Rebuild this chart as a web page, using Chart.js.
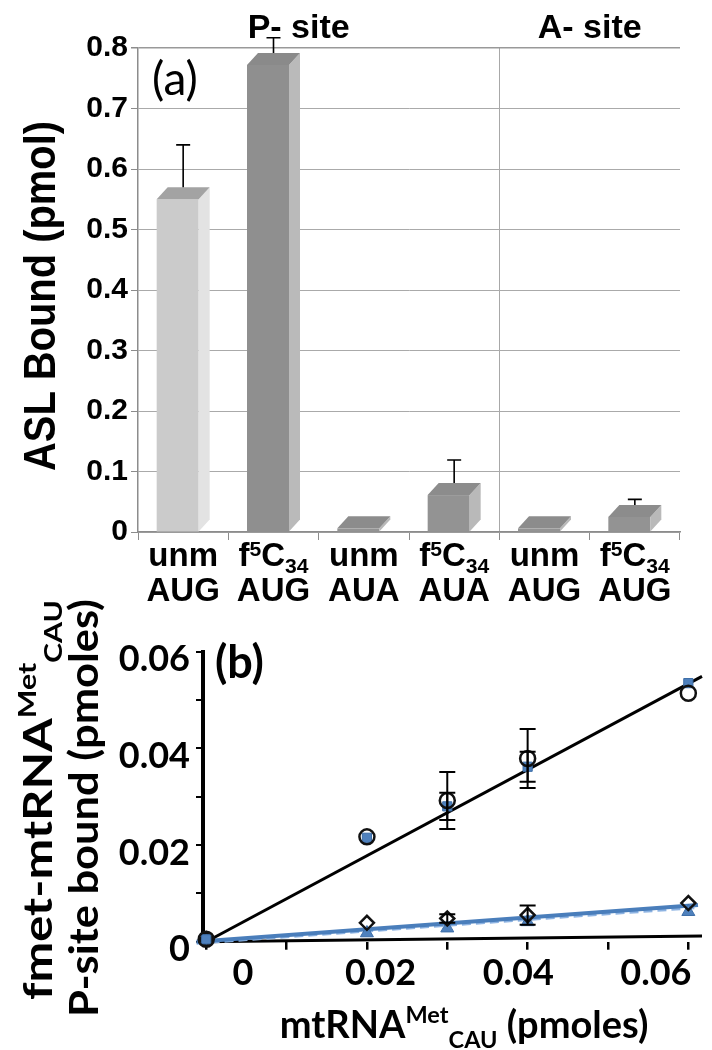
<!DOCTYPE html>
<html>
<head>
<meta charset="utf-8">
<script src="https://cdn.jsdelivr.net/npm/chart.js@4"></script>
<style>
  body { margin: 0; background: #fff; }
  #wrap { position: relative; width: 712px; height: 1050px; }
  canvas { position: absolute; left: 0; }
  #chartA { top: 0; }
  #chartB { top: 560px; }
</style>
</head>
<body>
<div id="wrap">
  <canvas id="chartA" width="712" height="620"></canvas>
  <canvas id="chartB" width="712" height="490"></canvas>
</div>
<script>
// ---- panel (a) data ----
const modLabels = ['unm', 'f⁵C₃₄', 'unm', 'f⁵C₃₄', 'unm', 'f⁵C₃₄'];
const codonLabels = ['AUG', 'AUG', 'AUA', 'AUA', 'AUG', 'AUG'];
const boundValues = [0.55, 0.772, 0.006, 0.061, 0.006, 0.025];
const boundErrors = [0.08, 0.035, 0, 0.048, 0, 0.019];
const yTicksA = [0, 0.1, 0.2, 0.3, 0.4, 0.5, 0.6, 0.7, 0.8];
const siteNames = ['P- site', 'A- site'];
const siteFirstIndex = [0, 4];
const siteLastIndex = [3, 5];

// ---- panel (b) data ----
const xPmol = [0, 0.02, 0.03, 0.04, 0.06];
const circleVals = [0.0005, 0.0217, 0.0292, 0.0379, 0.0514];
const circleErr = [0, 0, 0.0059, 0.0061, 0];
const squareVals = [0.0005, 0.0215, 0.028, 0.0362, 0.0535];
const squareErr = [0, 0, 0.0028, 0.0031, 0];
const diamondVals = [0.0005, 0.0039, 0.0048, 0.0055, 0.008];
const diamondErr = [0, 0, 0.0009, 0.002, 0];
const triangleVals = [0.0002, 0.0018, 0.0028, 0.0041, 0.0062];
const fitHighX = [0, 0.0617];
const fitHighY = [0, 0.0549];
const fitLowX = [-0.0012, 0.0612];
const fitLowY = [0, 0.0076];
const fitLowDashY = [-0.0003, 0.0071];
const fitFlatX = [-0.0004, 0.0617];
const fitFlatY = [0, 0.0012];
const xTicksB = [0, 0.01, 0.02, 0.03, 0.04, 0.05, 0.06];
const xLabelTicksB = [0, 0.02, 0.04, 0.06];
const yTicksB = [0, 0.01, 0.02, 0.03, 0.04, 0.05, 0.06];
const yLabelTicksB = [0, 0.02, 0.04, 0.06];

// ---- styles ----
const frontColors = ['#cbcbcb', '#8f8f8f', '#939393', '#939393', '#939393', '#939393'];
const sideColors = ['#e3e3e3', '#bababa', '#b9b9b9', '#b9b9b9', '#b9b9b9', '#b9b9b9'];
const topColors = ['#a3a3a3', '#8a8a8a', '#8c8c8c', '#8c8c8c', '#8c8c8c', '#8c8c8c'];
const DX = 11, DY = 12;
const ARIAL = 'Liberation Sans';
const CALIBRI = 'Lato';

// rich text: ^{..} / _{..} and unicode super/subscript digits
const SUP = '⁰¹²³⁴⁵⁶⁷⁸⁹', SUB = '₀₁₂₃₄₅₆₇₈₉';
function parseRich(str) {
  const parts = [];
  const push = (t, k) => {
    const last = parts[parts.length - 1];
    if (last && last.k === k) last.t += t; else parts.push({ t, k });
  };
  let i = 0;
  while (i < str.length) {
    const c = str[i];
    if ((c === '^' || c === '_') && str[i + 1] === '{') {
      const end = str.indexOf('}', i);
      push(str.slice(i + 2, end), c === '^' ? 'sup' : 'sub');
      i = end + 1;
      continue;
    }
    let d = SUP.indexOf(c);
    if (d >= 0) { push(String(d), 'sup'); i++; continue; }
    d = SUB.indexOf(c);
    if (d >= 0) { push(String(d), 'sub'); i++; continue; }
    push(c, 'n');
    i++;
  }
  return parts;
}
function fonts(o) {
  const weight = o.weight || 'bold';
  const small = o.size * (o.scale || 0.62);
  return [`${weight} ${o.size}px "${o.family}"`, `${weight} ${small}px "${o.family}"`];
}
function measureRich(ctx, str, o) {
  const [fontN, fontS] = fonts(o);
  return parseRich(str).reduce((sum, p) => {
    ctx.font = p.k === 'n' ? fontN : fontS;
    return sum + ctx.measureText(p.t).width;
  }, 0);
}
function drawRich(ctx, str, x, y, o) {
  const parts = parseRich(str);
  const [fontN, fontS] = fonts(o);
  let total = 0;
  parts.forEach(p => {
    ctx.font = p.k === 'n' ? fontN : fontS;
    p.w = ctx.measureText(p.t).width;
    total += p.w;
  });
  let cx = o.align === 'left' ? x : o.align === 'right' ? x - total : x - total / 2;
  ctx.fillStyle = o.color || '#000';
  ctx.textAlign = 'left';
  ctx.textBaseline = 'alphabetic';
  parts.forEach(p => {
    ctx.font = p.k === 'n' ? fontN : fontS;
    const dy = p.k === 'sup' ? -o.size * (o.supShift || 0.32) : p.k === 'sub' ? o.size * (o.subShift || 0.2) : 0;
    ctx.fillText(p.t, cx, y + dy);
    cx += p.w;
  });
}
function drawRotated(ctx, str, x, y, o) {
  ctx.save();
  ctx.translate(x, y);
  ctx.rotate(-Math.PI / 2);
  if (o.length) ctx.scale(o.length / measureRich(ctx, str, o), 1);
  drawRich(ctx, str, 0, 0, o);
  ctx.restore();
}

// 3D bars + error bars + texts for panel (a)
const panelA = {
  id: 'panelA',
  afterDatasetsDraw(chart) {
    const ctx = chart.ctx;
    const y = chart.scales.y;
    const meta = chart.getDatasetMeta(0);
    ctx.save();
    meta.data.forEach((bar, i) => {
      const p = bar.getProps(['x', 'y', 'base', 'width'], true);
      const left = p.x - (p.width + DX) / 2;
      const right = left + p.width;
      ctx.fillStyle = frontColors[i];
      ctx.fillRect(left, p.y, p.width, p.base - p.y);
      ctx.beginPath();
      ctx.moveTo(right, p.y);
      ctx.lineTo(right + DX, p.y - DY);
      ctx.lineTo(right + DX, p.base - DY);
      ctx.lineTo(right, p.base);
      ctx.closePath();
      ctx.fillStyle = sideColors[i];
      ctx.fill();
      ctx.beginPath();
      ctx.moveTo(left, p.y);
      ctx.lineTo(left + DX, p.y - DY);
      ctx.lineTo(right + DX, p.y - DY);
      ctx.lineTo(right, p.y);
      ctx.closePath();
      ctx.fillStyle = topColors[i];
      ctx.fill();
      if (boundErrors[i] > 0) {
        const yTop = y.getPixelForValue(boundValues[i] + boundErrors[i]) - DY / 2;
        ctx.strokeStyle = '#000';
        ctx.lineWidth = 1.6;
        ctx.beginPath();
        ctx.moveTo(p.x, p.y - DY);
        ctx.lineTo(p.x, yTop);
        ctx.moveTo(p.x - 7, yTop);
        ctx.lineTo(p.x + 7, yTop);
        ctx.stroke();
      }
    });
    ctx.restore();
  },
  afterDraw(chart) {
    const ctx = chart.ctx;
    const x = chart.scales.x;
    const area = chart.chartArea;
    ctx.save();
    modLabels.forEach((m, i) => {
      const cx = x.getPixelForValue(i);
      drawRich(ctx, m, cx, area.bottom + 34, { size: 33, family: ARIAL, supShift: 0.3, subShift: 0.22, scale: 0.64 });
      drawRich(ctx, codonLabels[i], cx, area.bottom + 69, { size: 33, family: ARIAL });
    });
    siteNames.forEach((s, k) => {
      const cx = (x.getPixelForValue(siteFirstIndex[k]) + x.getPixelForValue(siteLastIndex[k])) / 2;
      drawRich(ctx, s, k === 0 ? cx - 20 : cx, 38, { size: 34, family: ARIAL });
    });
    drawRich(ctx, '(a)', area.left + 14, 95, { size: 46, family: CALIBRI, weight: 'normal', align: 'left' });
    drawRotated(ctx, 'ASL Bound (pmol)', 55, 296, { size: 44, family: ARIAL, length: 350 });
    ctx.restore();
  }
};

new Chart(document.getElementById('chartA'), {
  type: 'bar',
  data: {
    labels: codonLabels,
    datasets: [{
      label: 'ASL Bound',
      data: boundValues,
      backgroundColor: 'rgba(0,0,0,0)',
      barThickness: 42
    }]
  },
  options: {
    responsive: false,
    animation: false,
    devicePixelRatio: 1,
    layout: { padding: { top: 48, right: 32, left: 0, bottom: 0 } },
    plugins: { legend: { display: false }, tooltip: { enabled: false } },
    scales: {
      x: {
        grid: {
          offset: true,
          color: c => (c.index === 4 ? '#a8a8a8' : c.index === 6 ? '#999' : 'rgba(0,0,0,0)'),
          lineWidth: c => (c.index === 6 ? 1.5 : 1),
          tickColor: '#8c8c8c',
          tickLength: 8
        },
        border: { color: '#8c8c8c', width: 1.5 },
        ticks: { display: false },
        afterFit: s => { s.height = 620 - 532; }
      },
      y: {
        min: 0,
        max: 0.8,
        afterBuildTicks: s => { s.ticks = yTicksA.map(v => ({ value: v })); },
        grid: {
          color: c => (c.index === yTicksA.length - 1 ? '#999' : '#aaaaaa'),
          lineWidth: c => (c.index === yTicksA.length - 1 ? 1.5 : 1),
          tickColor: '#8c8c8c',
          tickLength: 7
        },
        border: { color: '#8c8c8c', width: 1.5 },
        ticks: {
          color: '#000',
          padding: 3,
          font: { family: ARIAL, size: 30, weight: 'bold' },
          callback: v => (v === 0 ? '0' : v.toFixed(1))
        },
        afterFit: s => { s.width = 138; }
      }
    }
  },
  plugins: [panelA]
});

// panel (b)
const pts = vals => vals.map((v, i) => ({ x: xPmol[i], y: v }));
const pair = (xs, ys) => xs.map((v, i) => ({ x: v, y: ys[i] }));

const panelB = {
  id: 'panelB',
  afterDatasetsDraw(chart) {
    const ctx = chart.ctx;
    const y = chart.scales.y;
    const sets = [[0, circleVals, circleErr], [1, squareVals, squareErr], [2, diamondVals, diamondErr]];
    ctx.save();
    ctx.strokeStyle = '#000';
    ctx.lineWidth = 2;
    sets.forEach(([idx, vals, errs]) => {
      const meta = chart.getDatasetMeta(idx);
      meta.data.forEach((pt, i) => {
        if (!errs[i]) return;
        const yHi = y.getPixelForValue(vals[i] + errs[i]);
        const yLo = y.getPixelForValue(vals[i] - errs[i]);
        ctx.beginPath();
        ctx.moveTo(pt.x, yHi); ctx.lineTo(pt.x, yLo);
        ctx.moveTo(pt.x - 8, yHi); ctx.lineTo(pt.x + 8, yHi);
        ctx.moveTo(pt.x - 8, yLo); ctx.lineTo(pt.x + 8, yLo);
        ctx.stroke();
      });
    });
    ctx.restore();
  },
  afterDraw(chart) {
    const ctx = chart.ctx;
    const area = chart.chartArea;
    ctx.save();
    drawRich(ctx, '(b)', area.left + 12, area.top + 26, { size: 45, family: CALIBRI, align: 'left' });
    drawRich(ctx, 'mtRNA^{Met}_{CAU} (pmoles)', 464, 478, { size: 38, family: CALIBRI, scale: 0.62, supShift: 0.4, subShift: 0.25 });
    drawRotated(ctx, 'fmet-mtRNA^{Met}_{CAU}', 52, 240, { size: 40, family: CALIBRI, scale: 0.62, supShift: 0.4, subShift: 0.25, length: 400 });
    drawRotated(ctx, 'P-site bound (pmoles)', 98, 248, { size: 40, family: CALIBRI, length: 418 });
    ctx.restore();
  }
};

const tickFontB = { family: CALIBRI, size: 36, weight: 'bold' };

new Chart(document.getElementById('chartB'), {
  type: 'scatter',
  data: {
    datasets: [
      { label: 'circles', data: pts(circleVals), pointStyle: 'circle', pointRadius: 7.5,
        backgroundColor: 'rgba(0,0,0,0)', borderColor: '#111', pointBorderWidth: 2.5 },
      { label: 'squares', data: pts(squareVals), pointStyle: 'rect', pointRadius: 6.5,
        backgroundColor: '#4f81bd', borderColor: '#3d6ea8', pointBorderWidth: 1 },
      { label: 'diamonds', data: pts(diamondVals), pointStyle: 'rectRot', pointRadius: 7,
        backgroundColor: 'rgba(0,0,0,0)', borderColor: '#111', pointBorderWidth: 2.5 },
      { label: 'triangles', data: pts(triangleVals), pointStyle: 'triangle', pointRadius: 7.5,
        backgroundColor: '#4f81bd', borderColor: '#3d6ea8', pointBorderWidth: 1 },
      { type: 'line', label: 'fit high', data: pair(fitHighX, fitHighY), borderColor: '#000',
        borderWidth: 3, pointRadius: 0 },
      { type: 'line', label: 'fit low', data: pair(fitLowX, fitLowY), borderColor: '#4a7ebb',
        borderWidth: 4, pointRadius: 0 },
      { type: 'line', label: 'fit low dashed', data: pair(fitLowX, fitLowDashY), borderColor: '#8db3e2',
        borderWidth: 3, borderDash: [9, 5], pointRadius: 0 },
      { type: 'line', label: 'fit flat', data: pair(fitFlatX, fitFlatY), borderColor: '#000',
        borderWidth: 3, pointRadius: 0 }
    ]
  },
  options: {
    responsive: false,
    animation: false,
    devicePixelRatio: 1,
    clip: false,
    layout: { padding: { top: 91.7, right: 9, left: 0, bottom: 0 } },
    plugins: { legend: { display: false }, tooltip: { enabled: false } },
    scales: {
      x: {
        type: 'linear',
        weight: 0,
        min: -0.0004,
        max: 0.0617,
        afterBuildTicks: s => { s.ticks = xTicksB.map(v => ({ value: v })); },
        grid: { drawOnChartArea: false, color: '#000', lineWidth: 2.5, tickLength: 8 },
        border: { display: false },
        ticks: { display: false },
        afterFit: s => { s.height = 8; }
      },
      // tick labels of the x axis sit on their own scale, nudged inward as in the original
      xLabels: {
        type: 'linear',
        position: 'bottom',
        weight: 1,
        min: -0.0058,
        max: 0.0667,
        afterBuildTicks: s => { s.ticks = xLabelTicksB.map(v => ({ value: v })); },
        grid: { display: false, drawTicks: false },
        border: { display: false },
        ticks: {
          color: '#000',
          padding: 2,
          maxRotation: 0,
          autoSkip: false,
          font: tickFontB,
          callback: v => String(v)
        },
        afterFit: s => { s.height = 490 - 381.7 - 8; }
      },
      y: {
        min: 0,
        max: 0.06,
        afterBuildTicks: s => { s.ticks = yTicksB.map(v => ({ value: v })); },
        grid: { drawOnChartArea: false, color: '#000', lineWidth: 2, tickLength: 7 },
        border: { color: '#000', width: 4 },
        ticks: {
          color: '#000',
          padding: 6,
          labelOffset: 8,
          autoSkip: false,
          font: tickFontB,
          callback: v => (yLabelTicksB.includes(v) ? String(v) : '')
        },
        afterFit: s => { s.width = 203; }
      }
    }
  },
  plugins: [panelB]
});
</script>
</body>
</html>
